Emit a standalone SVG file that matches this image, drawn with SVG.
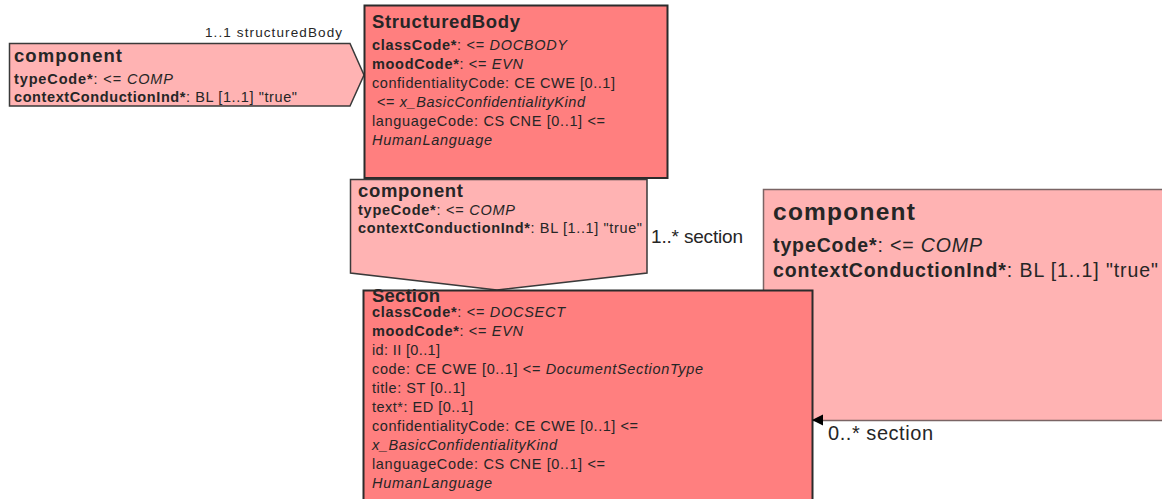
<svg xmlns="http://www.w3.org/2000/svg" width="1162" height="499" viewBox="0 0 1162 499">
<style>
.t{font-family:"Liberation Sans",Arial,Helvetica,sans-serif;fill:#262626}
.b{font-weight:bold}
.i{font-style:italic}
.s{font-size:14.5px}
.h{font-size:18.5px;font-weight:bold}
.cls{fill:#FF7F7F;stroke:#2b2b2b;stroke-width:2}
.cmp{fill:#FFB3B3;stroke:#3a3a3a;stroke-width:1.5}
.cmp2{fill:#FFB3B3;stroke:#7a6464;stroke-width:1.5}
</style>
<rect width="1162" height="499" fill="#ffffff"/>

<g id="component-right">
<rect class="cmp2" x="763.5" y="189.5" width="405" height="231"/>
<text class="t b" x="773" y="220" font-size="24.5" textLength="142">component</text>
<text class="t" x="773" y="252" font-size="19.5" textLength="209"><tspan class="b">typeCode*</tspan>: &lt;= <tspan class="i">COMP</tspan></text>
<text class="t" x="773" y="277" font-size="19.5" textLength="385"><tspan class="b">contextConductionInd*</tspan>: BL [1..1] "true"</text>
</g>

<g id="component-left">
<polygon class="cmp" points="9.5,43.5 350,43.5 364,75 350,106 9.5,106"/>
<text class="t h" x="14" y="62" textLength="108">component</text>
<text class="t s" x="14" y="84" textLength="159"><tspan class="b">typeCode*</tspan>: &lt;= <tspan class="i">COMP</tspan></text>
<text class="t s" x="14" y="102" textLength="283"><tspan class="b">contextConductionInd*</tspan>: BL [1..1] "true"</text>
</g>

<g id="StructuredBody">
<rect class="cls" x="364.5" y="5.5" width="303" height="172.5"/>
<text class="t h" x="372" y="28" textLength="148">StructuredBody</text>
<text class="t s" x="372" y="50" textLength="195"><tspan class="b">classCode*</tspan>: &lt;= <tspan class="i">DOCBODY</tspan></text>
<text class="t s" x="372" y="69" textLength="151"><tspan class="b">moodCode*</tspan>: &lt;= <tspan class="i">EVN</tspan></text>
<text class="t s" x="372" y="88" textLength="243">confidentialityCode: CE CWE [0..1]</text>
<text class="t s" x="377" y="107" textLength="208">&lt;= <tspan class="i">x_BasicConfidentialityKind</tspan></text>
<text class="t s" x="372" y="126" textLength="233">languageCode: CS CNE [0..1] &lt;=</text>
<text class="t s i" x="372" y="145" textLength="120">HumanLanguage</text>
</g>

<g id="component-middle">
<polygon class="cmp" points="350.5,179.5 647,179.5 647,273 497,290 350.5,273"/>
<text class="t h" x="358" y="197" textLength="105">component</text>
<text class="t s" x="358" y="215" textLength="157"><tspan class="b">typeCode*</tspan>: &lt;= <tspan class="i">COMP</tspan></text>
<text class="t s" x="358" y="233" textLength="284"><tspan class="b">contextConductionInd*</tspan>: BL [1..1] "true"</text>
</g>

<g id="Section">
<rect class="cls" x="363.5" y="290.5" width="449" height="220"/>
<text class="t h" x="372" y="302" textLength="68">Section</text>
<text class="t s" x="372" y="317" textLength="193"><tspan class="b">classCode*</tspan>: &lt;= <tspan class="i">DOCSECT</tspan></text>
<text class="t s" x="372" y="336" textLength="151"><tspan class="b">moodCode*</tspan>: &lt;= <tspan class="i">EVN</tspan></text>
<text class="t s" x="372" y="355" textLength="68">id: II [0..1]</text>
<text class="t s" x="372" y="374" textLength="331">code: CE CWE [0..1] &lt;= <tspan class="i">DocumentSectionType</tspan></text>
<text class="t s" x="372" y="393" textLength="93">title: ST [0..1]</text>
<text class="t s" x="372" y="412" textLength="101">text*: ED [0..1]</text>
<text class="t s" x="372" y="431" textLength="266">confidentialityCode: CE CWE [0..1] &lt;=</text>
<text class="t s i" x="372" y="450" textLength="185">x_BasicConfidentialityKind</text>
<text class="t s" x="372" y="469" textLength="233">languageCode: CS CNE [0..1] &lt;=</text>
<text class="t s i" x="372" y="488" textLength="120">HumanLanguage</text>
</g>

<g id="connectors">
<text class="t" x="205" y="37" font-size="13.5" textLength="137">1..1 structuredBody</text>
<text class="t" x="651" y="243" font-size="19" textLength="92">1..* section</text>
<polygon points="812,420 823,414.5 823,425.5" fill="#000000"/>
<text class="t" x="828" y="440" font-size="20" textLength="105">0..* section</text>
</g>
</svg>
